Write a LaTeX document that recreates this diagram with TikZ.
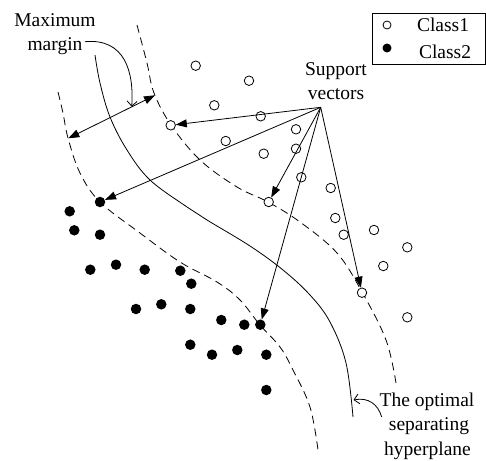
\documentclass[tikz,border=0pt]{standalone}
\usepackage{fontspec}
\setmainfont{Liberation Serif}
\usetikzlibrary{arrows.meta}
\begin{document}
\begin{tikzpicture}[x=1pt,y=-1pt,
  every node/.style={font=\fontsize{19.5}{24}\selectfont},
  lbl/.style={anchor=base,inner sep=0pt},
  opn/.style={circle,draw,fill=white,line width=0.8pt,minimum size=9.5pt,inner sep=0pt},
  fld/.style={circle,fill=black,minimum size=10.5pt,inner sep=0pt},
  lopn/.style={circle,draw,fill=white,line width=0.8pt,minimum size=8pt,inner sep=0pt},
  lfld/.style={circle,fill=black,minimum size=9pt,inner sep=0pt},
  bound/.style={line width=0.8pt,dash pattern=on 8pt off 5pt},
  hyper/.style={line width=0.8pt},
  svarrow/.style={line width=0.8pt,-{Triangle[length=11pt,width=8pt]}},
  dblarrow/.style={line width=0.8pt,{Triangle[length=11pt,width=8pt]}-{Triangle[length=11pt,width=8pt]}},
  callout/.style={line width=0.8pt,-{Straight Barb[length=5pt,width=10pt]}}]
\useasboundingbox (0,0) rectangle (486,460);

% boundaries
\draw[bound] plot[smooth,tension=0.6] coordinates {(137,25) (147,63) (154,93) (171,125) (200,160) (237,187) (268,202) (300,222) (337,253) (362,292) (386,340) (396,383)};
\draw[bound] plot[smooth,tension=0.6] coordinates {(58,92) (63,113) (68,138) (80,173) (100,202) (140,233) (180,262) (217,282) (240,300) (260,325) (280,347) (293,370) (310,407) (318,450)};
\draw[hyper] plot[smooth,tension=0.6] coordinates {(95,55) (100,83) (110,117) (127,150) (150,180) (187,207) (207,220) (250,246) (283,270) (310,295) (330,322) (346,363) (353,417)};

% class 1
\foreach \p/\q [count=\i] in {195.7/65.7, 249/80.7, 214.3/105.3, 260.7/116.3, 296/129.3, 225.7/141, 263.7/153.7, 296/148.7, 301.3/177.3, 330.7/188, 335.3/218, 343.7/234.7, 374/230, 407.3/247.3, 383.3/266, 407.3/317.3}
  \node[opn] (o\i) at (\p,\q) {};
\node[opn] (sa) at (170.7,125.3) {};
\node[opn] (sb) at (268.7,202) {};
\node[opn] (sc) at (362,292.7) {};

% class 2
\foreach \p/\q [count=\i] in {69.7/211.3, 74.3/230.3, 100/234.7, 90.3/269.7, 116/264.7, 144.7/269.7, 180.3/270.7, 191.3/283.7, 136/309, 161.3/304.3, 190.3/309, 221.3/320, 244.3/324.7, 190.3/344.7, 212/354.7, 237.3/350, 266.3/354.7, 266.3/390}
  \node[fld] (f\i) at (\p,\q) {};
\node[fld] (sd) at (100,202) {};
\node[fld] (se) at (260.3,324.7) {};

% margin
\coordinate (ml) at (68.3,138.3);
\coordinate (mr) at (155,95.3);
\draw[dblarrow] (ml) -- (mr);

% support vectors
\node[lbl] (sv1) at (336,75) {Support};
\node[lbl] (sv2) at (336,99) {vectors};
\coordinate (svo) at (320.7,107.3);
\draw[svarrow] (svo) -- (sa);
\draw[svarrow] (svo) -- (sd);
\draw[svarrow] (svo) -- (sb);
\draw[svarrow] (svo) -- (se);
\draw[svarrow] (svo) -- (sc);

% maximum margin label
\node[lbl] (mm1) at (55,26.7) {Maximum};
\node[lbl] (mm2) at (55,50.7) {margin};
\coordinate (mms) at (85,41.7);
\coordinate (mme) at (131.7,106.7);
\draw[callout] (mms) .. controls (125,38) and (134,72) .. (mme);

% hyperplane label
\node[lbl] (hp1) at (427,406) {The optimal};
\node[lbl] (hp2) at (429,430.5) {separating};
\node[lbl] (hp3) at (427.5,455) {hyperplane};
\coordinate (hps) at (381.7,417);
\coordinate (hpe) at (353.5,400);
\draw[callout] (hps) .. controls (378,404) and (368,397) .. (hpe);

% legend
\draw[line width=0.9pt] (372,13) rectangle (485,64);
\node[lopn] (l1) at (387,25) {};
\node[lfld] (l2) at (387,48) {};
\node[lbl] (lt1) at (443,31.7) {Class1};
\node[lbl] (lt2) at (445,58.3) {Class2};
\end{tikzpicture}
\end{document}
